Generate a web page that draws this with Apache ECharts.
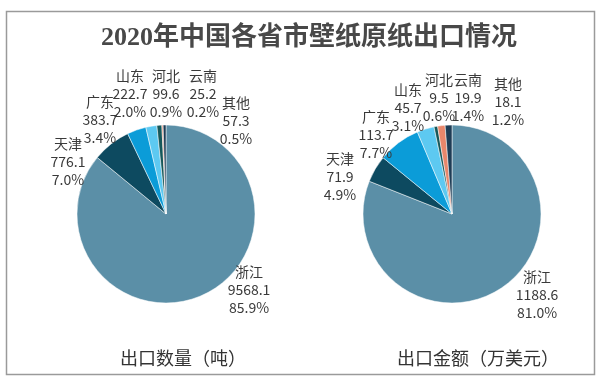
<!DOCTYPE html>
<html>
<head>
<meta charset="utf-8">
<script src="https://cdn.jsdelivr.net/npm/echarts@6/dist/echarts.min.js"></script>
<style>
html,body{margin:0;padding:0;background:#fff;}
#chart{width:600px;height:380px;}
</style>
</head>
<body>
<div id="chart"></div>
<script>
// ---- data ----
var regions = ['浙江', '天津', '广东', '山东', '河北', '云南', '其他'];
var quantityTons = [9568.1, 776.1, 383.7, 222.7, 99.6, 25.2, 57.3];
var quantityPct = ['85.9%', '7.0%', '3.4%', '2.0%', '0.9%', '0.2%', '0.5%'];
var valueUSD10k = [1188.6, 71.9, 113.7, 45.7, 9.5, 19.9, 18.1];
var valuePct = ['81.0%', '4.9%', '7.7%', '3.1%', '0.6%', '1.4%', '1.2%'];
var chartTitle = '2020年中国各省市壁纸原纸出口情况';
var leftCaption = '出口数量（吨）';
var rightCaption = '出口金额（万美元）';

// ---- styling / layout ----
var colors = ['#5B8FA7', '#0D4A60', '#0B9CD8', '#5DC9F1', '#16585A', '#E8876B', '#1E3D55'];
// label centre offsets from pie centre (px)
var leftLabelOffsets = [[83, 76], [-98, -52], [-66, -94], [-36, -120], [0, -120], [37, -120], [70, -93]];
var rightLabelOffsets = [[85, 81], [-112, -37], [-76, -79], [-44, -106], [-13, -116], [16, -116], [56, -112]];
var leftCenter = [166, 214], rightCenter = [452, 214], pieRadius = 89;

var chart = echarts.init(document.getElementById('chart'), null, {renderer: 'canvas'});

function makeSeries(values, pcts, center, offsets) {
  return {
    type: 'pie',
    center: center,
    radius: pieRadius,
    startAngle: 90,
    clockwise: true,
    avoidLabelOverlap: false,
    animation: false,
    itemStyle: {borderColor: '#ffffff', borderWidth: 0.5},
    label: {
      show: true,
      position: 'outside',
      formatter: function (p) { return p.name + '\n' + values[p.dataIndex] + '\n' + pcts[p.dataIndex]; },
      color: '#3a3a3a',
      fontSize: 14,
      lineHeight: 18,
      fontFamily: 'Noto Sans CJK SC',
      align: 'center'
    },
    labelLine: {show: false},
    labelLayout: function (params) {
      var o = offsets[params.dataIndex];
      return {x: center[0] + o[0], y: center[1] + o[1], align: 'center', verticalAlign: 'middle'};
    },
    emphasis: {disabled: true},
    data: regions.map(function (r, i) {
      return {name: r, value: values[i], itemStyle: {color: colors[i]}};
    })
  };
}

chart.setOption({
  backgroundColor: '#ffffff',
  title: [
    {text: chartTitle, left: 304, top: 20, textAlign: 'center',
     textStyle: {fontSize: 26, fontWeight: 'bold', color: '#484848', fontFamily: 'Liberation Serif, Noto Sans CJK SC'}},
    {text: leftCaption, left: 178, top: 344, textAlign: 'center',
     textStyle: {fontSize: 18, fontWeight: 'normal', color: '#333', fontFamily: 'Noto Sans CJK SC'}},
    {text: rightCaption, left: 473, top: 344, textAlign: 'center',
     textStyle: {fontSize: 18, fontWeight: 'normal', color: '#333', fontFamily: 'Noto Sans CJK SC'}}
  ],
  graphic: [{
    type: 'rect', left: 4, top: 9, z: -1,
    shape: {width: 588, height: 363},
    style: {fill: 'none', stroke: '#9a9a9a', lineWidth: 1.5}
  }],
  series: [
    makeSeries(quantityTons, quantityPct, leftCenter, leftLabelOffsets),
    makeSeries(valueUSD10k, valuePct, rightCenter, rightLabelOffsets)
  ]
});
</script>
</body>
</html>
